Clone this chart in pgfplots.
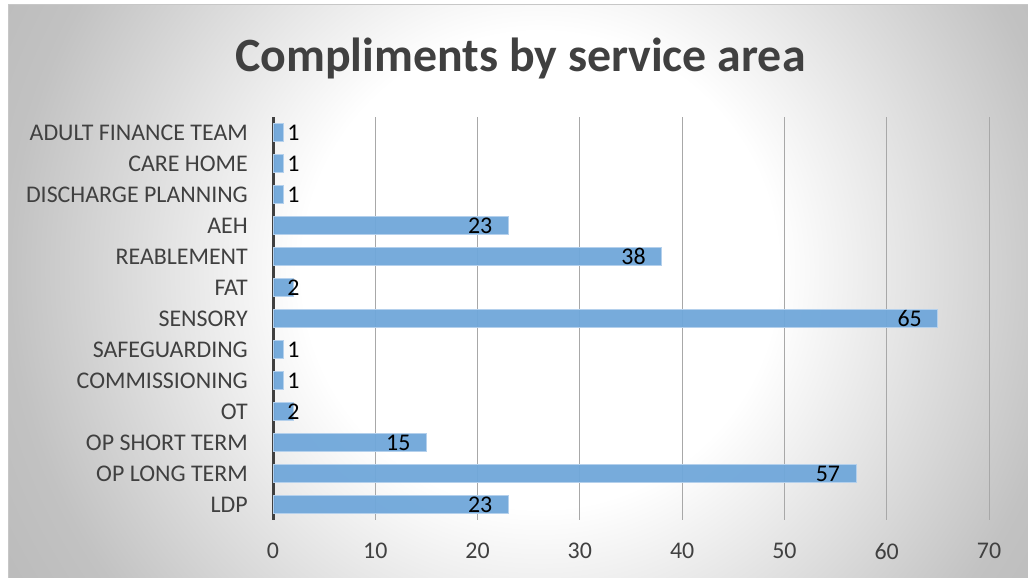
\documentclass[border=0pt]{standalone}
\usepackage{pgfplots}
\pgfplotsset{compat=1.18}
\usepackage{fontspec}
\setmainfont{Carlito}
\definecolor{barfill}{HTML}{70A7DA}
\definecolor{baredge}{HTML}{B4D0EC}
\definecolor{gridc}{HTML}{A8A8A8}
\definecolor{txt}{HTML}{404040}
\pgfdeclareradialshading{bgshade}{\pgfpoint{0bp}{0bp}}{%
  color(0bp)=(white); color(8.5bp)=(white); color(12bp)=(black!8);
  color(19bp)=(black!24); color(25bp)=(black!29); color(50bp)=(black!35)}
\begin{document}
\begin{tikzpicture}[x=1bp,y=1bp]
\path[use as bounding box] (0,0) rectangle (1028,578);
\fill[white] (0,0) rectangle (1028,578);
\begin{scope}
\clip (8,0) rectangle (1028,573);
\path[shading=bgshade] (540-700,308-700) rectangle (540+700,308+700);
\end{scope}
\draw[black!22, line width=1bp] (8,0) -- (8,573) -- (1028,573);
\node[anchor=base, font=\fontsize{48}{52}\selectfont\bfseries, text=txt] at (520.5,506) {Compliments by service area};
\begin{axis}[
  at={(273bp,58bp)}, anchor=south west,
  scale only axis, width=716bp, height=403bp,
  xmin=0, xmax=70, ymin=-0.5, ymax=12.5,
  xtick={0,10,...,70},
  ytick={0,...,12},
  yticklabels={LDP, OP LONG TERM, OP SHORT TERM, OT, COMMISSIONING, SAFEGUARDING, SENSORY, FAT, REABLEMENT, AEH, DISCHARGE PLANNING, CARE HOME, ADULT FINANCE TEAM},
  axis lines*=left,
  x axis line style={draw=none},
  y axis line style={draw=black!75, line width=3bp},
  major tick length=0pt,
  xmajorgrids,
  major grid style={gridc, line width=0.9bp},
  /pgf/number format/assume math mode=true,
  xticklabel style={font=\fontsize{24}{28}\selectfont, text=txt, inner sep=0pt, yshift=-23bp},
  yticklabel style={font=\fontsize{24}{28}\selectfont, text=txt, inner sep=0pt, xshift=-25bp},
  clip=false,
]
\addplot[xbar, bar width=18bp, fill=barfill, fill opacity=0.95, draw=baredge, line width=1bp] coordinates {
  (23,0) (57,1) (15,2) (2,3) (1,4) (1,5) (65,6) (2,7) (38,8) (23,9) (1,10) (1,11) (1,12)
};
\addplot[only marks, mark=none, nodes near coords, point meta=explicit symbolic,
  nodes near coords align={center},
  every node near coord/.style={font=\fontsize{24}{28}\selectfont, text=black, inner sep=0pt}] coordinates {
  (20.25,0) [23] (54.25,1) [57] (12.25,2) [15] (2.0,3) [2] (2.0,4) [1] (2.0,5) [1]
  (62.25,6) [65] (2.0,7) [2] (35.25,8) [38] (20.25,9) [23] (2.0,10) [1] (2.0,11) [1] (2.0,12) [1]
};
\end{axis}
\end{tikzpicture}
\end{document}
